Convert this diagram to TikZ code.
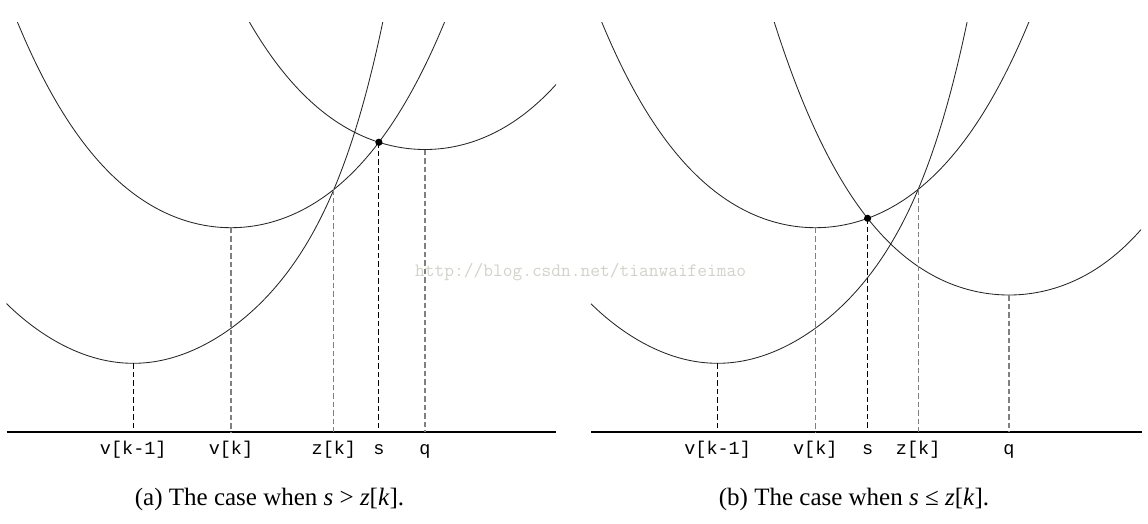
\documentclass[tikz,border=0pt]{standalone}
\usepackage{fontspec}
\setmainfont{Liberation Serif}
\newfontfamily\labfont{Liberation Mono}
\usetikzlibrary{intersections}
\definecolor{wmgray}{RGB}{210,210,202}
\begin{document}
\begin{tikzpicture}[x=1pt,y=-1pt,
  curve/.style={line width=0.85pt, black!85},
  baseln/.style={line width=1.1pt, black},
  dk/.style={dash pattern=on 5.5pt off 3pt, line width=1.1pt, black},
  gr/.style={dash pattern=on 5.5pt off 3pt, line width=1.1pt, black!50},
  lab/.style={font=\labfont\fontsize{18.5}{20}\selectfont, anchor=base, inner sep=0pt},
  captxt/.style={font=\fontsize{25}{28}\selectfont, anchor=base, inner sep=0pt},
  wm/.style={font=\ttfamily\fontsize{18.9}{20}\selectfont, text=wmgray, anchor=west, inner sep=0pt},
  declare function={
    fA(\t)=(\t*\t)*(36.955+(\t*\t)*(-0.836+0.5957*\t*\t));
    fB(\t)=(\t*\t)*(33.5+2.54*\t*\t);
    fC(\t)=(\t*\t)*(32+3.18*\t*\t);
  }]
\useasboundingbox (0,0) rectangle (1148,524);

% ---------- rows ----------
\coordinate (baseA) at (0,432);
\coordinate (rowA) at (0,454.5);

% ---------- watermark ----------
\node[wm] (wmark) at (415,272) {http://blog.csdn.net/tianwaifeimao};

% ---------- curves ----------
\begin{scope}
  \clip (0,22.3) rectangle (1148,440);
  % panel (a)
  \draw[curve, name path global=P1a] plot[domain=6.5:386, samples=160] (\x, {363.3 - fA((\x-133.3)/100)});
  \draw[curve, name path global=P2a] plot[domain=10:452, samples=160] (\x, {227.7 - fB((\x-231)/100)});
  \draw[curve, name path global=P3a] plot[domain=240:556, samples=140] (\x, {149.5 - fB((\x-425)/100)});
  % panel (b)
  \draw[curve, name path global=P1b] plot[domain=591:970, samples=160] (\x, {363.3 - fA((\x-717.6)/100)});
  \draw[curve, name path global=P2b] plot[domain=594:1036, samples=160] (\x, {227.7 - fB((\x-815.3)/100)});
  \draw[curve, name path global=P3b] plot[domain=768:1141, samples=160] (\x, {295 - fC((\x-1009)/100)});
\end{scope}

% ---------- key points ----------
\path[name intersections={of=P1a and P2a, by=zA}];
\path[name intersections={of=P2a and P3a, by=sA}];
\path[name intersections={of=P1b and P2b, by=zB}];
\path[name intersections={of=P2b and P3b, by=sB}];
\coordinate (vkmA) at (133.3,363.3);
\coordinate (vkA) at (231,227.7);
\coordinate (qA) at (425,149.5);
\coordinate (vkmB) at (717.6,363.3);
\coordinate (vkB) at (815.3,227.7);
\coordinate (qB) at (1009,295);

% ---------- baselines ----------
\draw[baseln] (6.5,432) coordinate (blA) -- (555.5,432) coordinate (brA);
\draw[baseln] (591,432) coordinate (blB) -- (1142,432) coordinate (brB);

% ---------- dashed verticals (a) ----------
\draw[dk] (vkmA) -- (vkmA |- baseA);
\draw[gr] (vkA) -- (vkA |- baseA);
\draw[gr] (zA) -- (zA |- baseA);
\draw[dk] (sA) -- (sA |- baseA);
\draw[gr] (qA) -- (qA |- baseA);
% ---------- dashed verticals (b) ----------
\draw[dk] (vkmB) -- (vkmB |- baseA);
\draw[gr] (vkB) -- (vkB |- baseA);
\draw[dk] (sB) -- (sB |- baseA);
\draw[gr] (zB) -- (zB |- baseA);
\draw[gr] (qB) -- (qB |- baseA);

% ---------- dots ----------
\fill (sA) circle (3.6pt);
\fill (sB) circle (3.6pt);

% ---------- labels (a) ----------
\node[lab] (LvkmA) at (vkmA |- rowA) {v[k-1]};
\node[lab] (LvkA) at (vkA |- rowA) {v[k]};
\node[lab] (LzA) at (zA |- rowA) {z[k]};
\node[lab] (LsA) at (sA |- rowA) {s};
\node[lab] (LqA) at (qA |- rowA) {q};
% ---------- labels (b) ----------
\node[lab] (LvkmB) at (vkmB |- rowA) {v[k-1]};
\node[lab] (LvkB) at (vkB |- rowA) {v[k]};
\node[lab] (LsB) at (sB |- rowA) {s};
\node[lab] (LzB) at (zB |- rowA) {z[k]};
\node[lab] (LqB) at (qB |- rowA) {q};

% ---------- captions ----------
\node[captxt] (capA) at (269.5,505) {(a) The case when \textit{s} > \textit{z}[\textit{k}].};
\node[captxt] (capB) at (854,505) {(b) The case when \textit{s} ≤ \textit{z}[\textit{k}].};
\end{tikzpicture}
\end{document}
